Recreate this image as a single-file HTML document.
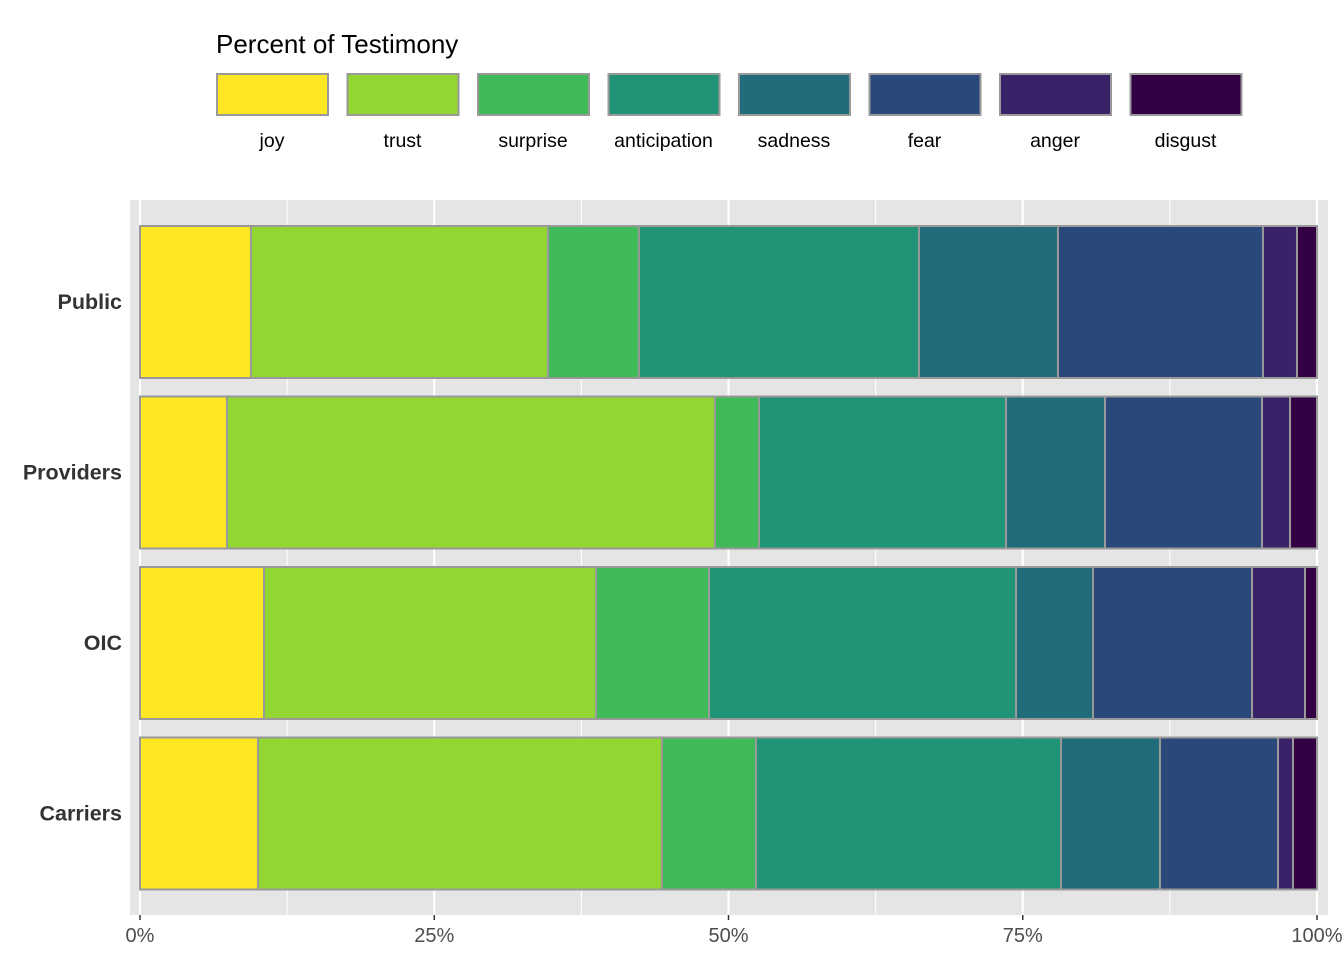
<!DOCTYPE html>
<html><head><meta charset="utf-8"><style>
body{margin:0;background:#fff;font-family:"Liberation Sans",Arial,sans-serif}
</style></head><body>
<svg id="chart" width="1344" height="960" xmlns="http://www.w3.org/2000/svg">
<rect x="130" y="200" width="1198" height="715" fill="#e5e5e5"/>
<g id="grid"></g><g id="bars"></g><g id="axes"></g><g id="legend"></g>
</svg>
<script>
const categories=["Public","Providers","OIC","Carriers"];
const emotions=["joy","trust","surprise","anticipation","sadness","fear","anger","disgust"];
const colors=["#FDE725","#91D631","#3EBB58","#1F9477","#206C7B","#2A4879","#3A2268","#330044"];
const joy=[9.43,7.39,10.54,10.03];
const trust=[25.23,41.46,28.21,34.32];
const surprise=[7.73,3.74,9.60,7.99];
const anticipation=[23.79,20.99,26.08,25.91];
const sadness=[11.81,8.41,6.54,8.41];
const fear=[17.42,13.34,13.51,10.03];
const anger=[2.89,2.38,4.50,1.27];
const disgust=[1.70,2.29,1.02,2.04];
const series=[joy,trust,surprise,anticipation,sadness,fear,anger,disgust];
const ticks=[0,25,50,75,100];
const tickLabels=["0%","25%","50%","75%","100%"];
const NS="http://www.w3.org/2000/svg";
const x=v=>140+v/100*1177;
const yc=i=>302+i*170.5;
function mk(t,a,p){const e=document.createElementNS(NS,t);for(const k in a)e.setAttribute(k,a[k]);p.appendChild(e);return e;}
const grid=document.getElementById('grid'),bars=document.getElementById('bars'),axes=document.getElementById('axes'),leg=document.getElementById('legend');
for(let v=0;v<=100;v+=12.5){const l=mk('line',{x1:x(v),x2:x(v),y1:200,y2:915,stroke:'#fff','stroke-width':v%25===0?2.2:1.1},grid);

}
categories.forEach((c,i)=>{
  let tot=series.reduce((s,a)=>s+a[i],0);let cum=0;
  series.forEach((s,j)=>{const v=s[i]/tot*100;
    const r=mk('rect',{x:x(cum),y:yc(i)-76,width:x(cum+v)-x(cum),height:152,fill:colors[j],stroke:'#999','stroke-width':2},bars);
    
    
    cum+=v;});
  const t=mk('text',{x:122,y:yc(i)+7,'text-anchor':'end','font-size':21.5,'font-weight':'bold',fill:'#333'},axes);
  t.textContent=c;
  
  
});
ticks.forEach((v,i)=>{
  const tk=mk('line',{x1:x(v),x2:x(v),y1:915,y2:920,stroke:'#333','stroke-width':1.5},axes);
  
  
  const t=mk('text',{x:x(v),y:942,'text-anchor':'middle','font-size':20,fill:'#4d4d4d'},axes);
  t.textContent=tickLabels[i];
  
  
});
const lt=mk('text',{x:216,y:53,'font-size':26,fill:'#000'},leg);
lt.textContent="Percent of Testimony";


emotions.forEach((e,j)=>{
  const lx=216+j*130.5;
  const r=mk('rect',{x:lx+1,y:74,width:111,height:41,fill:colors[j],stroke:'#999','stroke-width':2},leg);
  
  
  const t=mk('text',{x:lx+56,y:147,'text-anchor':'middle','font-size':19.5,fill:'#000'},leg);
  t.textContent=e;
  
  
});
</script>
</body></html>
